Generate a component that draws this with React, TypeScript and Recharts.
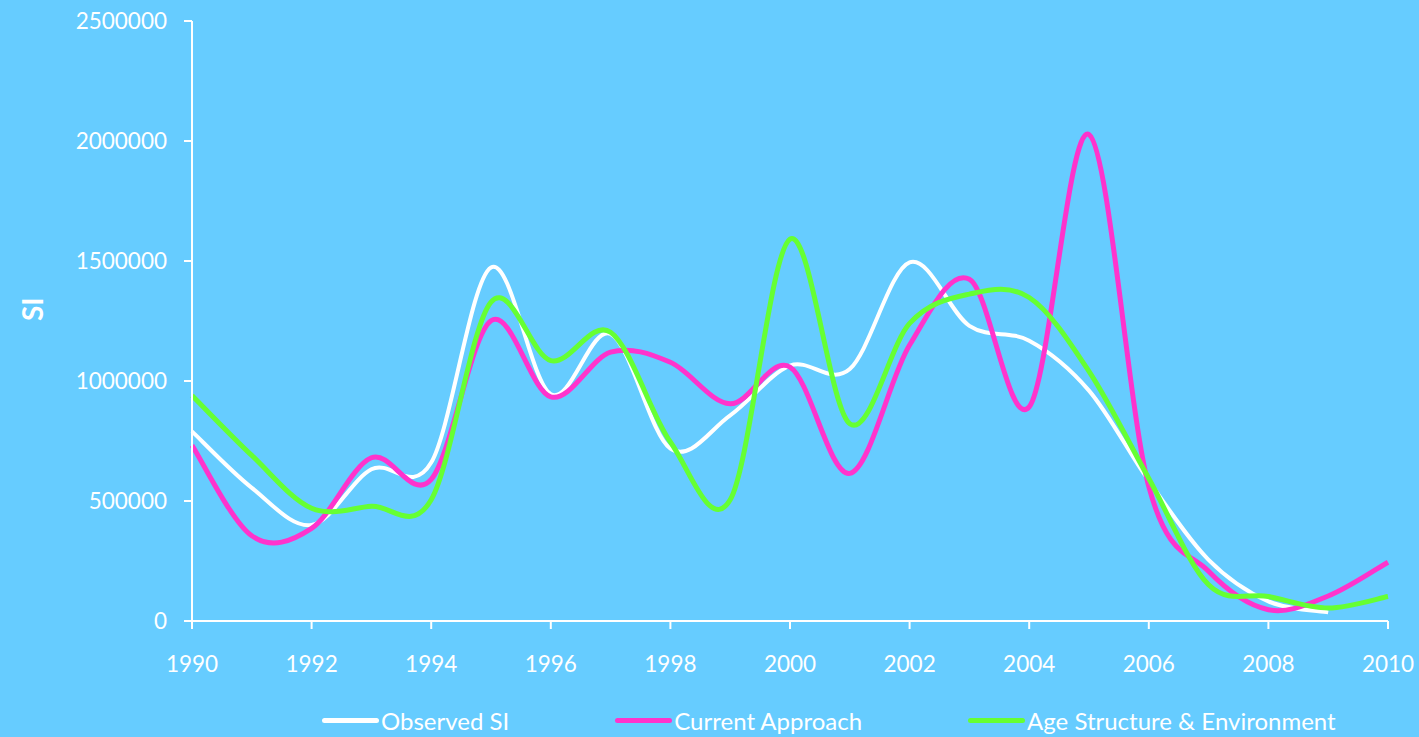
import React from "react";
import { LineChart, Line, XAxis, YAxis, Legend } from "recharts";

const years = [
  1990, 1991, 1992, 1993, 1994, 1995, 1996, 1997, 1998, 1999, 2000,
  2001, 2002, 2003, 2004, 2005, 2006, 2007, 2008, 2009, 2010,
];

// values in thousands
const observedSI = [
  790, 555, 400, 632, 660, 1473, 945, 1196, 718, 857, 1064,
  1050, 1494, 1230, 1168, 960, 584, 255, 82, 36, null,
];
const currentApproach = [
  732, 355, 386, 680, 590, 1251, 934, 1120, 1078, 905, 1058,
  615, 1150, 1424, 892, 2027, 560, 207, 47, 104, 245,
];
const ageStructure = [
  940, 690, 470, 478, 505, 1329, 1085, 1203, 746, 505, 1591,
  822, 1240, 1362, 1348, 1040, 594, 151, 102, 54, 102,
];

const xTicks = [1990, 1992, 1994, 1996, 1998, 2000, 2002, 2004, 2006, 2008, 2010];
const yTicks = [0, 500000, 1000000, 1500000, 2000000, 2500000];

const seriesInfo = [
  { key: "observed", name: "Observed SI", color: "#FFFFFF", width: 4 },
  { key: "current", name: "Current Approach", color: "#FF33CC", width: 5 },
  { key: "age", name: "Age Structure & Environment", color: "#66FF33", width: 5 },
];

const data = years.map((year, i) => ({
  year,
  observed: observedSI[i] == null ? null : observedSI[i]! * 1000,
  current: currentApproach[i] * 1000,
  age: ageStructure[i] * 1000,
}));

// smooth line like the spreadsheet one (catmull-rom through the points)
const smoothCurve = (context: any) => {
  let pts: number[][] = [];
  return {
    areaStart() {},
    areaEnd() {},
    lineStart() {
      pts = [];
    },
    point(x: number, y: number) {
      pts.push([+x, +y]);
    },
    lineEnd() {
      const n = pts.length;
      if (!n) return;
      context.moveTo(pts[0][0], pts[0][1]);
      for (let i = 0; i < n - 1; i++) {
        const p0 = pts[i - 1] || pts[i];
        const p1 = pts[i];
        const p2 = pts[i + 1];
        const p3 = pts[i + 2] || p2;
        context.bezierCurveTo(
          p1[0] + (p2[0] - p0[0]) / 6,
          p1[1] + (p2[1] - p0[1]) / 6,
          p2[0] - (p3[0] - p1[0]) / 6,
          p2[1] - (p3[1] - p1[1]) / 6,
          p2[0],
          p2[1]
        );
      }
    },
  };
};

const font = "Lato, 'Open Sans', sans-serif";

const LegendContent = () => (
  <div
    style={{
      display: "flex",
      paddingLeft: 322,
      width: 1419,
      boxSizing: "border-box",
      height: 30,
      alignItems: "center",
      fontFamily: font,
      fontSize: 24,
      color: "#fff",
      whiteSpace: "nowrap",
    }}
  >
    {seriesInfo.map((s) => (
      <div key={s.key} style={{ display: "flex", alignItems: "center", marginRight: 106, flexShrink: 0 }}>
        <span style={{ display: "inline-block", width: 57, height: 5, borderRadius: 3, background: s.color }} />
        <span style={{ marginLeft: 2 }}>{s.name}</span>
      </div>
    ))}
  </div>
);

export default function App() {
  return (
    <div style={{ position: "absolute", left: 0, top: 0, width: 1419, height: 737, background: "#66CCFF" }}>
      <LineChart
        width={1419}
        height={737}
        data={data}
        margin={{ top: 21, right: 31, left: 0, bottom: 2 }}
      >
        <XAxis
          dataKey="year"
          type="number"
          domain={[1990, 2010]}
          ticks={xTicks}
          stroke="#fff"
          strokeWidth={2}
          tickSize={8}
          tickMargin={27}
          height={84}
          tick={{ fill: "#fff", fontSize: 22.5, fontFamily: font }}
        />
        <YAxis
          domain={[0, 2500000]}
          ticks={yTicks}
          stroke="#fff"
          strokeWidth={2}
          tickSize={8}
          tickMargin={17}
          width={192}
          tick={{ fill: "#fff", fontSize: 22.5, fontFamily: font }}
          label={{
            value: "SI",
            angle: -90,
            position: "insideLeft",
            dx: 28,
            style: { fill: "#fff", fontSize: 28, fontWeight: "bold", fontFamily: font },
          }}
        />
        <Legend
          verticalAlign="bottom"
          wrapperStyle={{ left: 0, width: 1419 }}
          content={<LegendContent />}
        />
        {seriesInfo.map((s) => (
          <Line
            key={s.key}
            dataKey={s.key}
            name={s.name}
            type={smoothCurve as any}
            stroke={s.color}
            strokeWidth={s.width}
            dot={false}
            activeDot={false}
            isAnimationActive={false}
          />
        ))}
      </LineChart>
    </div>
  );
}
